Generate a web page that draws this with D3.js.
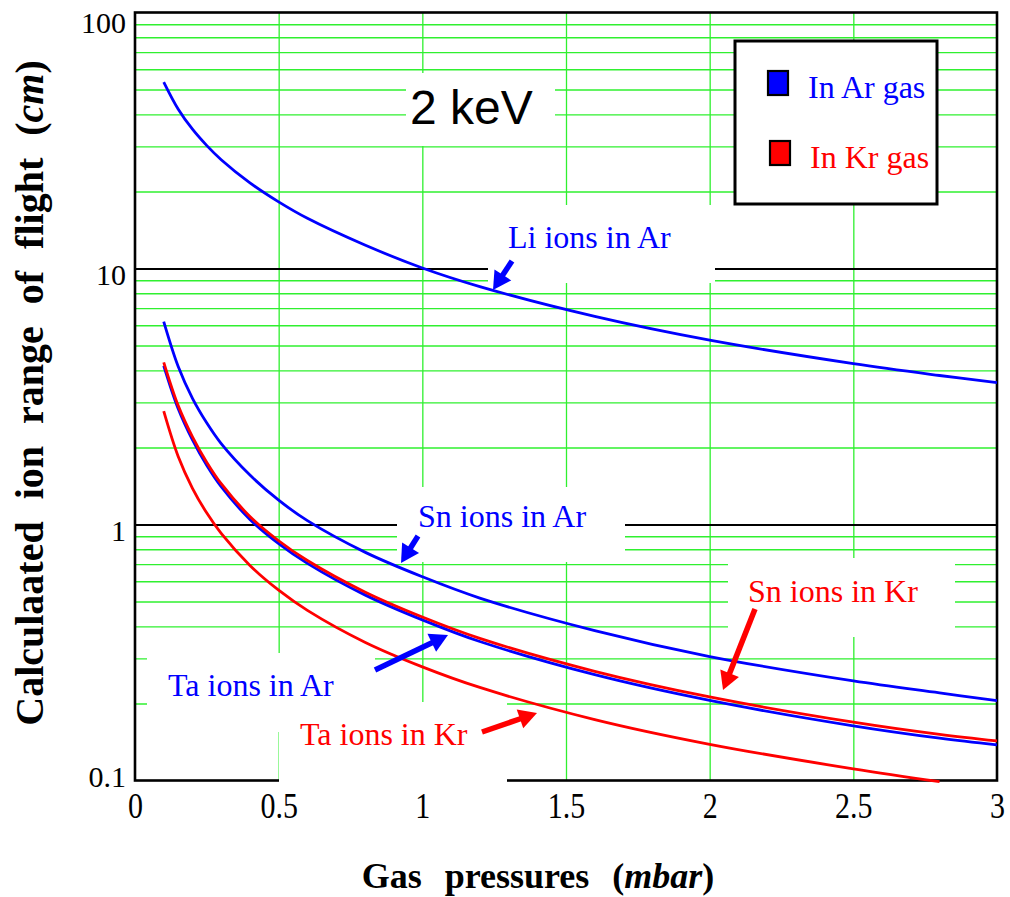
<!DOCTYPE html>
<html><head><meta charset="utf-8">
<script src="https://cdn.jsdelivr.net/npm/d3@7"></script>
<style>body{margin:0;background:#fff}svg{display:block}</style>
</head><body><svg id="c" width="1010" height="897"></svg>
<script>
// ---------- data ----------
const pressures = [0.1,0.15,0.2,0.25,0.3,0.4,0.5,0.6,0.8,1.0,1.2,1.6,2.0,2.5,2.8,3.0];
const liInAr = [53.5,42.0,35.0,30.2,26.6,21.6,18.2,15.7,12.35,10.05,8.5,6.5,5.25,4.25,3.82,3.58];
const snInAr = [6.2,4.15,3.11,2.49,2.07,1.56,1.245,1.035,0.78,0.625,0.516,0.385,0.305,0.245,0.22,0.205];
const snInKr = [4.3,2.92,2.2,1.748,1.443,1.075,0.864,0.723,0.545,0.435,0.359,0.267,0.212,0.169,0.1514,0.1427];
const taInAr = [4.17,2.84,2.14,1.70,1.405,1.047,0.842,0.705,0.531,0.424,0.349,0.259,0.2055,0.1635,0.1463,0.1378];
const taInKr = [2.77,1.847,1.385,1.108,0.923,0.692,0.554,0.462,0.347,0.278,0.231,0.173,0.1385,0.111,0.0989,null];
const xTicks = [0,0.5,1,1.5,2,2.5,3];
const xTickLabels = ["0","0.5","1","1.5","2","2.5","3"];
const yTicks = [0.1,1,10,100];
const yTickLabels = ["0.1","1","10","100"];
const legendLabels = ["In Ar gas","In Kr gas"];
const curveLabels = ["Li ions in Ar","Sn ions in Ar","Ta ions in Ar","Sn ions in Kr","Ta ions in Kr"];
const energyLabel = "2 keV";

// ---------- layout ----------
const BLUE = "#0000ff", RED = "#ff0000", GREEN = "#2ff02f";
const SERIF = "'Liberation Serif','Times New Roman',serif";
const SANS = "'Liberation Sans',Arial,sans-serif";
const svg = d3.select("#c");
const x = d3.scaleLinear().domain([0,3]).range([135,997]);
const y = d3.scaleLog().domain([0.1,100]).range([780.5,12.5]);
const plotW = x(3)-x(0), plotH = y(0.1)-y(100);

// minor grid (green)
const minor = [];
[0.1,1,10].forEach(d => { for (let m=2;m<=9;m++) minor.push(+(d*m).toPrecision(3)); });
const gy = svg.append("g").attr("transform",`translate(${x(0)},0)`)
  .call(d3.axisLeft(y).tickValues(minor).tickSize(-plotW).tickFormat(""));
gy.select(".domain").remove();
gy.selectAll("line").attr("stroke",GREEN).attr("stroke-width",1.4);
const gx = svg.append("g").attr("transform",`translate(0,${y(0.1)})`)
  .call(d3.axisBottom(x).tickValues(xTicks.slice(1,-1)).tickSize(-plotH).tickFormat(""));
gx.select(".domain").remove();
gx.selectAll("line").attr("stroke",GREEN).attr("stroke-width",1.3);

// major lines (black)
const gm = svg.append("g").attr("transform",`translate(${x(0)},0)`)
  .call(d3.axisLeft(y).tickValues([1,10]).tickSize(-plotW).tickFormat(""));
gm.select(".domain").remove();
gm.selectAll("line").attr("stroke","#000").attr("stroke-width",2);

// frame
svg.append("rect").attr("x",x(0)).attr("y",y(100)).attr("width",plotW).attr("height",plotH)
  .attr("fill","none").attr("stroke","#000").attr("stroke-width",2.6);

// white label backgrounds [x0,y0,x1,y1]
const boxes = [[406,73,555,146],[488,205,715,283],[397,487,625,562],[147,653,375,732],[279,702,507,782],[728,558,955,637]];
svg.append("g").selectAll("rect").data(boxes).join("rect")
  .attr("x",d=>d[0]).attr("y",d=>d[1]).attr("width",d=>d[2]-d[0]).attr("height",d=>d[3]-d[1])
  .attr("fill","#fff");

// curves
const series = [
  {v: liInAr, c: BLUE}, {v: snInAr, c: BLUE}, {v: taInAr, c: BLUE},
  {v: snInKr, c: RED}, {v: taInKr, c: RED}
];
const line = d3.line().defined(d=>d[1]!=null).x(d=>x(d[0])).y(d=>y(d[1])).curve(d3.curveCatmullRom.alpha(0.5));
svg.append("g").selectAll("path").data(series).join("path")
  .attr("d",s=>line(pressures.map((p,i)=>[p,s.v[i]])))
  .attr("fill","none").attr("stroke",s=>s.c).attr("stroke-width",2.8);

// arrows: [x1,y1,x2(tip),y2(tip),color]
const arrows = [[512,261,493,290,BLUE],[418,536,401,563,BLUE],[375,670,448,635,BLUE],[755,609,723,690,RED],[482,732,537,713,RED]];
const ga = svg.append("g");
arrows.forEach(a=>{
  const [x1,y1,x2,y2,c]=a; const dx=x2-x1, dy=y2-y1, L=Math.hypot(dx,dy);
  const ux=dx/L, uy=dy/L, hl=18, hw=10;
  const bx=x2-ux*hl, by=y2-uy*hl;
  ga.append("line").attr("x1",x1).attr("y1",y1).attr("x2",bx+ux*2).attr("y2",by+uy*2)
    .attr("stroke",c).attr("stroke-width",5.5);
  ga.append("polygon").attr("points",`${x2},${y2} ${bx-uy*hw},${by+ux*hw} ${bx+uy*hw},${by-ux*hw}`).attr("fill",c);
});

// curve labels
const labelPos = [[508,248,BLUE],[418,527,BLUE],[168,696,BLUE],[748,602,RED],[300,745,RED]];
svg.append("g").selectAll("text").data(curveLabels).join("text")
  .attr("x",(d,i)=>labelPos[i][0]).attr("y",(d,i)=>labelPos[i][1]).attr("fill",(d,i)=>labelPos[i][2])
  .attr("font-family",SERIF).attr("font-size",32).text(d=>d);

// energy label
svg.append("text").attr("x",410).attr("y",124).attr("font-family",SANS).attr("font-size",48)
  .attr("fill","#000").text(energyLabel);

// legend
const lg = svg.append("g");
lg.append("rect").attr("x",735).attr("y",41).attr("width",202).attr("height",163)
  .attr("fill","#fff").attr("stroke","#000").attr("stroke-width",3);
const legColors = [BLUE, RED];
legendLabels.forEach((t,i)=>{
  const yy = 71 + i*70;
  lg.append("rect").attr("x",768+i*2).attr("y",yy).attr("width",20).attr("height",24)
    .attr("fill",legColors[i]).attr("stroke","#000").attr("stroke-width",2.2);
  lg.append("text").attr("x",808+i*2).attr("y",yy+27).attr("fill",legColors[i])
    .attr("font-family",SERIF).attr("font-size",32).text(t);
});

// tick labels
const ax = svg.append("g").attr("transform",`translate(0,${y(0.1)})`)
  .call(d3.axisBottom(x).tickValues(xTicks).tickSize(0).tickPadding(0).tickFormat((d,i)=>xTickLabels[i]));
ax.select(".domain").remove();
ax.selectAll("text").attr("font-family",SERIF).attr("font-size",30).attr("fill","#000")
  .attr("dy",null).attr("y",0)
  .attr("transform","translate(0,37) scale(1,1.2)");
const ay = svg.append("g").attr("transform",`translate(${x(0)},0)`)
  .call(d3.axisLeft(y).tickValues(yTicks).tickSize(0).tickPadding(9).tickFormat((d,i)=>yTickLabels[i]));
ay.select(".domain").remove();
ay.selectAll("text").attr("font-family",SERIF).attr("font-size",30).attr("fill","#000")
  .attr("dy",null).attr("y",d=>Math.min(Math.max(y(d)+16,32),786)-y(d));

// axis titles
const xt = svg.append("text").attr("x",538).attr("y",888).attr("text-anchor","middle")
  .attr("font-family",SERIF).attr("font-size",36).attr("font-weight","bold").attr("word-spacing",14);
xt.append("tspan").text("Gas pressures (");
xt.append("tspan").attr("font-style","italic").text("mbar");
xt.append("tspan").text(")");
const yt = svg.append("text").attr("transform","translate(43,393) rotate(-90)").attr("text-anchor","middle")
  .attr("font-family",SERIF).attr("font-size",40).attr("font-weight","bold").attr("word-spacing",12);
yt.append("tspan").text("Calculaated ion range of flight (");
yt.append("tspan").attr("font-style","italic").text("cm");
yt.append("tspan").text(")");
</script></body></html>
